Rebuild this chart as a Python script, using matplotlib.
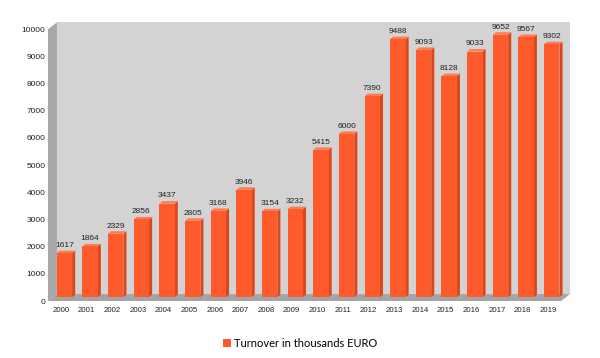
import matplotlib
matplotlib.use("Agg")
import matplotlib.pyplot as plt
from matplotlib.patches import Polygon, Patch

# data
years = [str(y) for y in range(2000, 2020)]
turnover = [1617, 1864, 2329, 2856, 3437, 2805, 3168, 3946, 3154, 3232,
            5415, 6000, 7390, 9488, 9093, 8128, 9033, 9652, 9567, 9302]
y_ticks = list(range(0, 10001, 1000))
legend_label = "Turnover in thousands EURO"

# colours
FRONT = "#ff5a2b"
SIDE = "#d9471c"
TOP = "#ff7a4c"
BACK_WALL = "#d3d3d3"
LEFT_WALL = "#a8a8a8"
FLOOR = "#a4a4a4"

# fake 3d geometry (data units)
DX, DY = 0.35, 257       # wall depth
BX, BY = 0.14, 147       # bar front plane offset
SDX, SDY = 0.12, 92      # bar depth
W = 0.6
YMAX = 10000

fig = plt.figure(figsize=(6.0, 3.58), dpi=100)
ax = fig.add_axes([0.08, 0.159, 0.87, 0.782])
ax.set_xlim(-0.5, len(years) - 0.5 + DX)
ax.set_ylim(0, 10300)

x0, x1 = -0.5, len(years) - 0.5
ax.add_patch(Polygon([(x0 + DX, DY), (x1 + DX, DY), (x1 + DX, YMAX + DY), (x0 + DX, YMAX + DY)],
                     closed=True, facecolor=BACK_WALL, edgecolor="none"))
ax.add_patch(Polygon([(x0, 0), (x0 + DX, DY), (x0 + DX, YMAX + DY), (x0, YMAX)],
                     closed=True, facecolor=LEFT_WALL, edgecolor="none"))
ax.add_patch(Polygon([(x0, 0), (x1, 0), (x1 + DX, DY), (x0 + DX, DY)],
                     closed=True, facecolor=FLOOR, edgecolor="none"))

for i, v in enumerate(turnover):
    l = i - W / 2 + BX
    r = i + W / 2 + BX
    b = BY
    t = BY + v
    ax.add_patch(Polygon([(r, b), (r + SDX, b + SDY), (r + SDX, t + SDY), (r, t)],
                         closed=True, facecolor=SIDE, edgecolor="none"))
    ax.add_patch(Polygon([(l, t), (r, t), (r + SDX, t + SDY), (l + SDX, t + SDY)],
                         closed=True, facecolor=TOP, edgecolor="none"))
    ax.add_patch(Polygon([(l, b), (r, b), (r, t), (l, t)],
                         closed=True, facecolor=FRONT, edgecolor="none"))
    ax.annotate(str(v), xy=(i + BX, t), xytext=(0, 3), textcoords="offset points",
                ha="center", va="bottom", fontsize=6, family="Liberation Sans",
                color="#222222")

for s in ax.spines.values():
    s.set_visible(False)
ax.set_yticks(y_ticks)
ax.set_yticklabels([str(t) for t in y_ticks], fontsize=6, family="Liberation Sans", color="#222222")
ax.set_xticks(range(len(years)))
ax.set_xticklabels(years, fontsize=5.6, family="Liberation Sans", color="#222222")
ax.tick_params(axis="y", length=0, pad=2)
ax.tick_params(axis="x", length=0, pad=4.5)

fig.legend(handles=[Patch(facecolor=FRONT, edgecolor="none", label=legend_label)],
           loc="center", bbox_to_anchor=(0.5, 0.04), frameon=False,
           handlelength=0.7, handleheight=0.7, handletextpad=0.3,
           prop={"family": "Lato", "size": 8})

fig.savefig("out.png", dpi=100, facecolor="white")
